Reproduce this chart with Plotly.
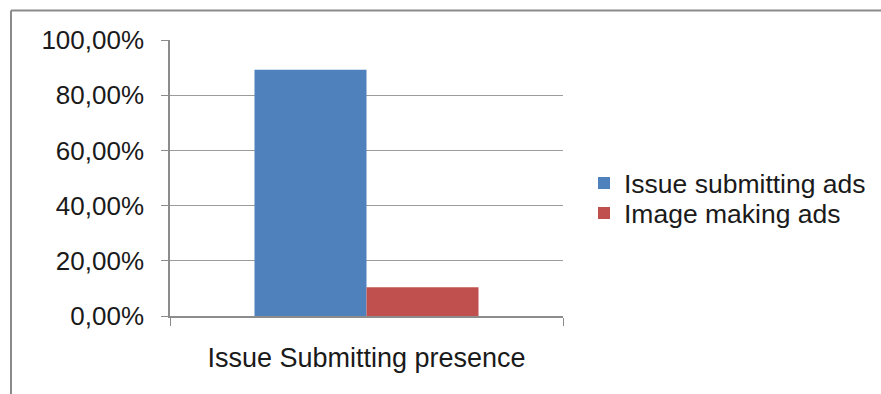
import plotly.graph_objects as go

categories = ["Issue Submitting presence"]
series_names = ["Issue submitting ads", "Image making ads"]
issue_submitting = [0.892]
image_making = [0.104]
series_colors = ["#4F81BD", "#C0504D"]
y_ticks = [0, 0.2, 0.4, 0.6, 0.8, 1.0]

FONT = "Liberation Sans, Arial, sans-serif"
W, H = 881, 394
ml, mr, mt, mb = 170, 318, 39.5, 78
pw, ph = W - ml - mr, H - mt - mb

legend_ids = ["legend", "legend2"]
legend_rows_px = [183, 213]

fig = go.Figure()
for name, vals, col, lg in zip(series_names, [issue_submitting, image_making], series_colors, legend_ids):
    fig.add_trace(go.Bar(x=categories, y=vals, name=name, legend=lg, showlegend=True,
                         marker=dict(color=col, line=dict(width=0))))

# outer chart border (only top and left visible)
bx = (11 - ml) / pw
by = (H - mb - 10) / ph
fig.add_shape(type="line", xref="paper", yref="paper", x0=bx, x1=bx, y0=-0.4, y1=by,
              line=dict(color="#8a8a8a", width=2))
fig.add_shape(type="line", xref="paper", yref="paper", x0=bx, x1=2.0, y0=by, y1=by,
              line=dict(color="#8a8a8a", width=2))

leg_common = dict(xanchor="left", yanchor="middle", font=dict(size=26.5),
                  bgcolor="rgba(0,0,0,0)", x=(584 - ml) / pw, visible=True)

fig.update_layout(
    width=W, height=H,
    margin=dict(l=ml, r=mr, t=mt, b=mb, pad=0, autoexpand=False),
    paper_bgcolor="white", plot_bgcolor="white",
    showlegend=True,
    barmode="group", bargap=0.43, bargroupgap=0,
    separators=",.",
    font=dict(family=FONT, size=26, color="#1a1a1a"),
    legend=dict(y=(H - mb - legend_rows_px[0]) / ph, **leg_common),
    legend2=dict(y=(H - mb - legend_rows_px[1]) / ph, **leg_common),
    xaxis=dict(showline=True, linecolor="#8c8c8c", linewidth=1.5, ticks="outside",
               tickson="boundaries", ticklen=8, tickcolor="#8c8c8c", showgrid=False,
               ticklabelstandoff=17, tickfont=dict(size=27), automargin=False),
    yaxis=dict(range=[0, 1.0], tickvals=y_ticks, tickformat=".2%", showline=True,
               linecolor="#8c8c8c", linewidth=1.5, ticks="outside", ticklen=7,
               tickcolor="#8c8c8c", showgrid=True, gridcolor="#9c9c9c", gridwidth=1.2,
               zeroline=False, ticklabelstandoff=12, tickfont=dict(size=26), automargin=False),
)

fig.write_html("out.html")
